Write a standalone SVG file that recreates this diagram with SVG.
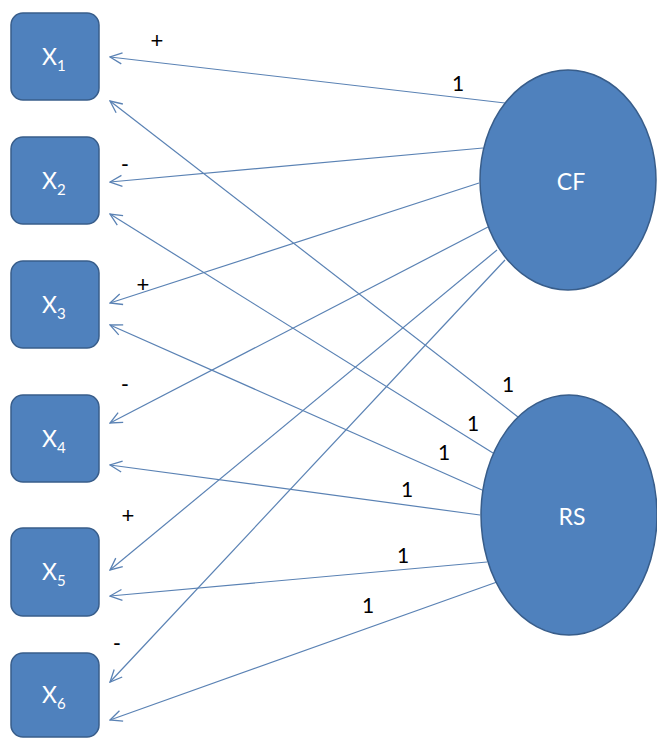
<svg xmlns="http://www.w3.org/2000/svg" width="657" height="738" viewBox="0 0 657 738">
<style>
.box{fill:#4f81bd;stroke:#385d8a;stroke-width:1.5}
.node{fill:#4f81bd;stroke:#385d8a;stroke-width:1.5}
.lbl{font-family:Lato,"Liberation Sans",sans-serif;font-size:23px;fill:#ffffff}
.sub{font-size:15px}
.edge{stroke:#5a82b4;stroke-width:1.2;fill:none;marker-end:url(#arr)}
.sign{font-family:"Liberation Sans",sans-serif;font-size:22px;fill:#000000;text-anchor:middle}
.one{font-family:Lato,"Liberation Sans",sans-serif;font-size:21px;fill:#000000;text-anchor:middle}
</style>
<defs>
<marker id="arr" viewBox="0 0 14 14" refX="13" refY="7" markerWidth="14" markerHeight="14" markerUnits="userSpaceOnUse" orient="auto">
<path d="M1,1.5 L13,7 L1,12.5" fill="none" stroke="#5a82b4" stroke-width="1.3"/>
</marker>
</defs>
<rect width="657" height="738" fill="#ffffff"/>
<g id="connectors">
<line class="edge" x1="505" y1="103" x2="110" y2="57"/>
<line class="edge" x1="483" y1="148" x2="110" y2="182"/>
<line class="edge" x1="479" y1="183" x2="110" y2="303"/>
<line class="edge" x1="488" y1="227" x2="110" y2="423"/>
<line class="edge" x1="497" y1="250" x2="110" y2="570"/>
<line class="edge" x1="505" y1="260" x2="110" y2="682"/>
<line class="edge" x1="518" y1="417" x2="110" y2="101"/>
<line class="edge" x1="493" y1="453" x2="110" y2="214"/>
<line class="edge" x1="482" y1="490" x2="110" y2="325"/>
<line class="edge" x1="480" y1="515" x2="110" y2="465"/>
<line class="edge" x1="487" y1="562" x2="110" y2="596"/>
<line class="edge" x1="497" y1="582" x2="110" y2="720"/>
</g>
<g id="X1"><rect class="box" x="11" y="13" width="88" height="87" rx="12"/><text class="lbl" x="42" y="65">X<tspan class="sub" dy="6">1</tspan></text></g>
<g id="X2"><rect class="box" x="11" y="137" width="88" height="87" rx="12"/><text class="lbl" x="42" y="189">X<tspan class="sub" dy="6">2</tspan></text></g>
<g id="X3"><rect class="box" x="11" y="261" width="88" height="87" rx="12"/><text class="lbl" x="42" y="313">X<tspan class="sub" dy="6">3</tspan></text></g>
<g id="X4"><rect class="box" x="11" y="395" width="88" height="87" rx="12"/><text class="lbl" x="42" y="447">X<tspan class="sub" dy="6">4</tspan></text></g>
<g id="X5"><rect class="box" x="11" y="528" width="88" height="88" rx="12"/><text class="lbl" x="42" y="580">X<tspan class="sub" dy="6">5</tspan></text></g>
<g id="X6"><rect class="box" x="11" y="653" width="88" height="84" rx="12"/><text class="lbl" x="42" y="703">X<tspan class="sub" dy="6">6</tspan></text></g>
<g id="CF"><ellipse class="node" cx="568" cy="180" rx="88" ry="110"/><text class="lbl" x="571" y="190" text-anchor="middle">CF</text></g>
<g id="RS"><ellipse class="node" cx="569" cy="515" rx="88" ry="120"/><text class="lbl" x="572" y="525" text-anchor="middle">RS</text></g>
<g id="labels">
<text class="sign" x="157" y="48">+</text>
<text class="sign" x="125" y="171">-</text>
<text class="sign" x="143" y="292">+</text>
<text class="sign" x="125" y="391">-</text>
<text class="sign" x="128" y="523">+</text>
<text class="sign" x="117" y="650">-</text>
<text class="one" x="458" y="91">1</text>
<text class="one" x="508" y="392">1</text>
<text class="one" x="473" y="431">1</text>
<text class="one" x="444" y="460">1</text>
<text class="one" x="407" y="497">1</text>
<text class="one" x="403" y="563">1</text>
<text class="one" x="368" y="613">1</text>
</g>
</svg>
